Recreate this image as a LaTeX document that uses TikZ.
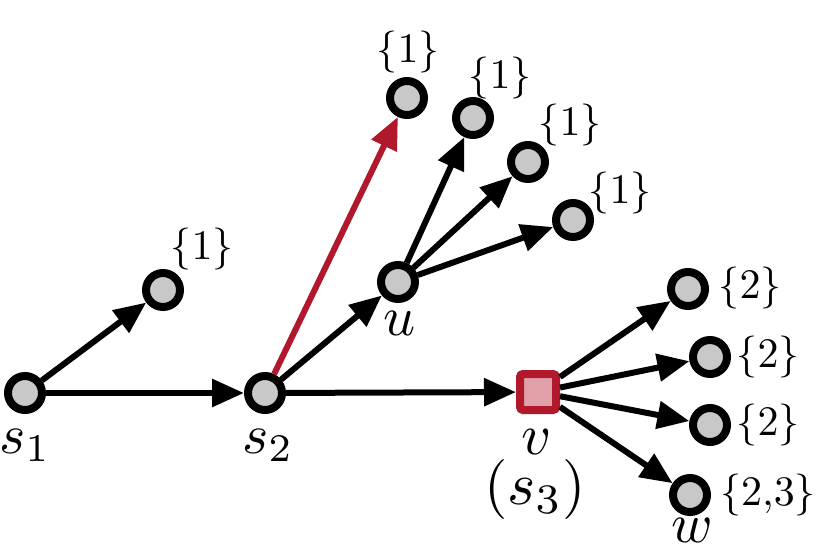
\documentclass[tikz,border=0pt]{standalone}
\usetikzlibrary{arrows.meta}
\definecolor{myred}{HTML}{B2182B}
\definecolor{mypink}{HTML}{E0A0A8}
\definecolor{mygray}{HTML}{C8C8C8}
\tikzset{
  vert/.style={circle,draw=black,fill=mygray,line width=8pt,minimum size=34pt,inner sep=0pt},
  sq/.style={rectangle,draw=myred,fill=mypink,line width=8pt,minimum size=36pt,inner sep=0pt,rounded corners=3pt},
  edge/.style={line width=6pt,-{Triangle[length=32pt,width=27pt]}},
  redge/.style={edge,draw=myred,fill=myred},
  setlab/.style={inner sep=0pt,font=\normalsize,scale=4.2},
  namelab/.style={inner sep=0pt,anchor=base,font=\normalsize,scale=5.6},
}
\begin{document}
\begin{tikzpicture}[x=1pt,y=-1pt]
\useasboundingbox (0,0) rectangle (830,552);
\node[vert] (s1) at (25,393) {};
\node[vert] (a) at (163,290) {};
\node[vert] (s2) at (265,393) {};
\node[vert] (r) at (407,98) {};
\node[vert] (u) at (398,282) {};
\node[vert] (c1) at (473,118) {};
\node[vert] (c2) at (528,162) {};
\node[vert] (c3) at (573,220) {};
\node[sq] (v) at (538,392) {};
\node[vert] (d1) at (688,289) {};
\node[vert] (d2) at (710,357) {};
\node[vert] (d3) at (710,425) {};
\node[vert] (w) at (690,495) {};

\draw[edge] (s1) -- (a);
\draw[edge] (s1) -- (s2);
\draw[redge] (s2) -- (r);
\draw[edge] (s2) -- (u);
\draw[edge] (s2) -- (v);
\draw[edge] (u) -- (c1);
\draw[edge] (u) -- (c2);
\draw[edge] (u) -- (c3);
\draw[edge] (v) -- (d1);
\draw[edge] (v) -- (d2);
\draw[edge] (v) -- (d3);
\draw[edge] (v) -- (w);

\node[setlab] (la) at (202,249) {$\{1\}$};
\node[setlab] (lr) at (408,52) {$\{1\}$};
\node[setlab] (lc1) at (500,78) {$\{1\}$};
\node[setlab] (lc2) at (570,125) {$\{1\}$};
\node[setlab] (lc3) at (620,193) {$\{1\}$};
\node[setlab] (ld1) at (750,288) {$\{2\}$};
\node[setlab] (ld2) at (768,357) {$\{2\}$};
\node[setlab] (ld3) at (768,425) {$\{2\}$};
\node[setlab] (lw) at (768,495) {$\{2{,}3\}$};

\node[namelab] (ns1) at (25,453) {$s_1$};
\node[namelab] (ns2) at (268,453) {$s_2$};
\node[namelab] (nu) at (400,335) {$u$};
\node[namelab,scale=5.8/5.6] (nv) at (537,454) {$v$};
\node[namelab,scale=6.0/5.6] (ns3) at (535,504) {$(s_3)$};
\node[namelab] (nw) at (692,542) {$w$};
\end{tikzpicture}
\end{document}
